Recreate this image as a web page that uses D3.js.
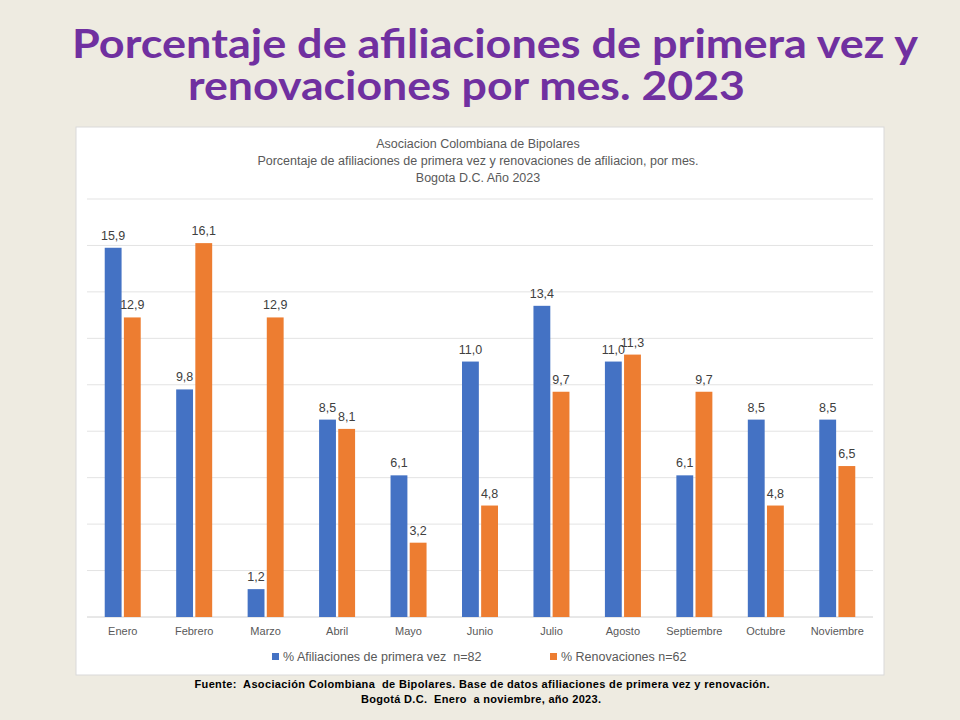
<html>
<head>
  <meta charset="utf-8">
  <title>Afiliaciones por mes 2023</title>
  <script src="https://d3js.org/d3.v7.min.js"></script>
  <style>
    body { margin: 0; background: #eeebe1; }
    text { white-space: pre; }
  </style>
</head>
<body>
  <script>

var meses = ['Enero', 'Febrero', 'Marzo', 'Abril', 'Mayo', 'Junio', 'Julio', 'Agosto', 'Septiembre', 'Octubre', 'Noviembre'];
var afiliaciones = [15.9, 9.8, 1.2, 8.5, 6.1, 11.0, 13.4, 11.0, 6.1, 8.5, 8.5];
var renovaciones = [12.9, 16.1, 12.9, 8.1, 3.2, 4.8, 9.7, 11.3, 9.7, 4.8, 6.5];
var series = ['% Afiliaciones de primera vez  n=82', '% Renovaciones n=62'];
var yTicks = [0, 2, 4, 6, 8, 10, 12, 14, 16, 18];

var width = 960,
    height = 720;

var colores = ['#4472c4', '#ed7d31'];
var fmt = function(v) { return v.toFixed(1).replace('.', ','); };

var svg = d3.select('body')
  .append('svg')
  .attr('width', width)
  .attr('height', height);

svg.append('rect')
  .attr('width', width)
  .attr('height', height)
  .attr('fill', '#eeebe1');

// titulo de la diapositiva
var titulo = svg.append('g')
  .attr('fill', '#7030a0')
  .attr('font-family', 'Lato, "Open Sans", sans-serif')
  .attr('font-weight', 'bold')
  .attr('font-size', 41);
titulo.append('text').attr('x', 72).attr('y', 58)
  .attr('textLength', 846)
  .attr('lengthAdjust', 'spacingAndGlyphs')
  .text('Porcentaje de afiliaciones de primera vez y');
titulo.append('text').attr('x', 188).attr('y', 100)
  .attr('textLength', 557)
  .attr('lengthAdjust', 'spacingAndGlyphs')
  .text('renovaciones por mes. 2023');

// caja del grafico
svg.append('rect')
  .attr('x', 76).attr('y', 127)
  .attr('width', 808).attr('height', 548)
  .attr('fill', '#fff')
  .attr('stroke', '#d9d9d9')
  .attr('stroke-width', 1);

var cab = svg.append('g')
  .attr('fill', '#595959')
  .attr('font-family', '"Liberation Sans", Arial, sans-serif')
  .attr('font-size', 12.5)
  .attr('text-anchor', 'middle');
['Asociacion Colombiana de Bipolares',
 'Porcentaje de afiliaciones de primera vez y renovaciones de afiliacion, por mes.',
 'Bogota D.C. Año 2023'].forEach(function(t, i) {
  cab.append('text').attr('x', 478).attr('y', 148 + i * 17).text(t);
});

var x0 = d3.scaleBand()
  .domain(meses)
  .range([87, 873]);

var x1 = d3.scaleBand()
  .domain([0, 1])
  .range([0, 36])
  .paddingInner(0.12);

var y = d3.scaleLinear()
  .domain([0, 18])
  .range([617, 199]);

svg.append('g')
  .selectAll('line')
  .data(yTicks)
  .enter()
  .append('line')
  .attr('x1', 87).attr('x2', 873)
  .attr('y1', function(d) { return y(d); })
  .attr('y2', function(d) { return y(d); })
  .attr('stroke', function(d) { return d === 0 ? '#d0d0d0' : '#e3e3e3'; })
  .attr('stroke-width', 1);

var datos = [];
meses.forEach(function(m, i) {
  datos.push({mes: m, s: 0, v: afiliaciones[i]});
  datos.push({mes: m, s: 1, v: renovaciones[i]});
});

var off = (x0.bandwidth() - 36) / 2;

svg.append('g')
  .selectAll('rect')
  .data(datos)
  .enter()
  .append('rect')
  .attr('x', function(d) { return x0(d.mes) + off + x1(d.s); })
  .attr('width', x1.bandwidth())
  .attr('y', function(d) { return y(d.v); })
  .attr('height', function(d) { return y(0) - y(d.v); })
  .attr('fill', function(d) { return colores[d.s]; });

svg.append('g')
  .attr('font-family', '"Liberation Sans", Arial, sans-serif')
  .attr('font-size', 12.5)
  .attr('fill', '#404040')
  .attr('text-anchor', 'middle')
  .selectAll('text')
  .data(datos)
  .enter()
  .append('text')
  .attr('x', function(d) { return x0(d.mes) + off + x1(d.s) + x1.bandwidth() / 2; })
  .attr('y', function(d) { return y(d.v) - 8; })
  .text(function(d) { return fmt(d.v); });

var eje = d3.axisBottom(x0).tickSize(0).tickPadding(10);
var gx = svg.append('g')
  .attr('transform', 'translate(0,617)')
  .call(eje);
gx.select('.domain').remove();
gx.selectAll('text')
  .attr('font-family', '"Liberation Sans", Arial, sans-serif')
  .attr('font-size', 11)
  .attr('fill', '#595959');

// leyenda
var ley = svg.append('g')
  .attr('font-family', '"Liberation Sans", Arial, sans-serif')
  .attr('font-size', 12.5)
  .attr('fill', '#595959');
[272, 550].forEach(function(lx, i) {
  ley.append('rect').attr('x', lx).attr('y', 653).attr('width', 7).attr('height', 7).attr('fill', colores[i]);
  ley.append('text').attr('x', lx + 11).attr('y', 661).text(series[i]);
});

// fuente
var fuente = svg.append('g')
  .attr('font-family', '"Liberation Sans Narrow", "Liberation Sans", Arial, sans-serif')
  .attr('font-weight', 'bold')
  .attr('font-size', 11)
  .attr('fill', '#000')
  .attr('text-anchor', 'middle');
fuente.append('text').attr('x', 482).attr('y', 688)
  .attr('textLength', 575)
  .text('Fuente:  Asociación Colombiana  de Bipolares. Base de datos afiliaciones de primera vez y renovación.');
fuente.append('text').attr('x', 481).attr('y', 703)
  .attr('textLength', 240)
  .text('Bogotá D.C.  Enero  a noviembre, año 2023.');

  </script>
</body>
</html>
